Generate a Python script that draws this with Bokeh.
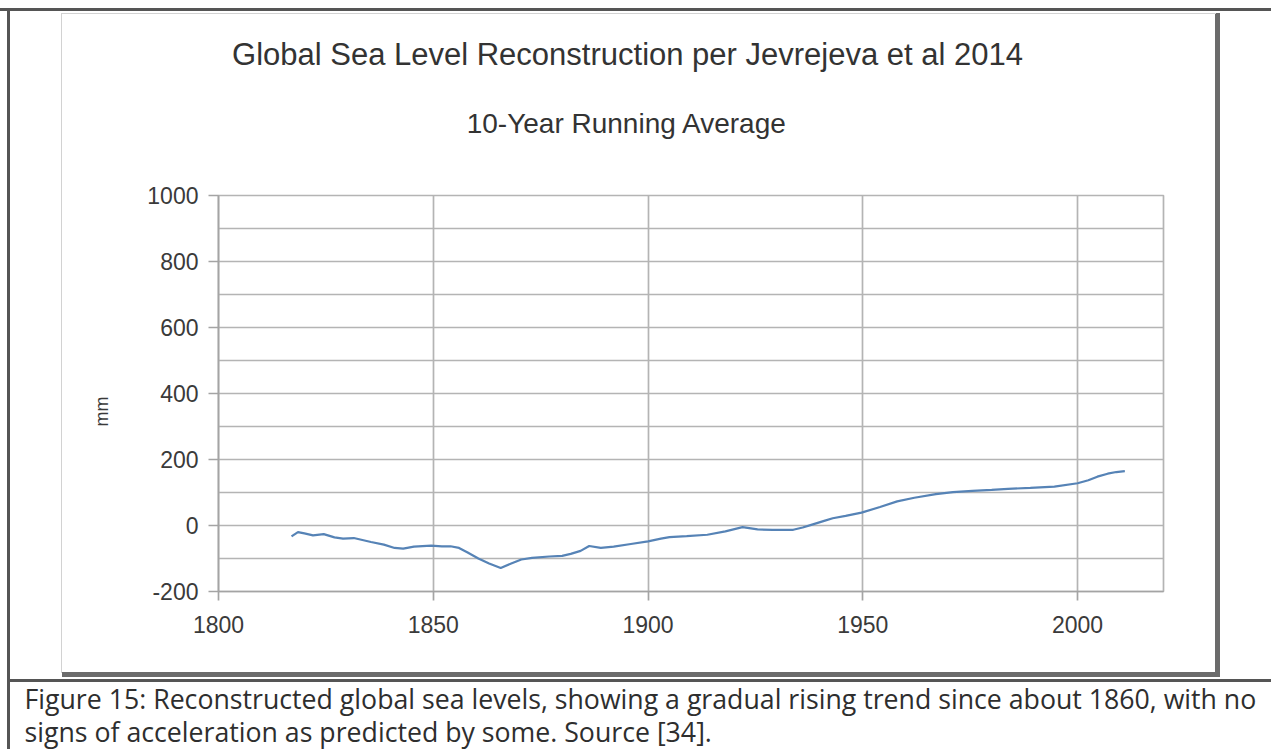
import math
from bokeh.plotting import figure
from bokeh.layouts import column, row
from bokeh.models import Label, FixedTicker, Range1d
from bokeh.embed import file_html
from bokeh.resources import INLINE

# ---- data ----
years = [1817, 1818.5, 1820, 1822, 1824.5, 1827, 1829, 1831.5, 1833.5, 1835.5,
         1838.5, 1841, 1843, 1845.5, 1849.5, 1852, 1854, 1856, 1858, 1860.5,
         1863, 1865.7, 1868, 1870.5, 1873, 1877, 1880, 1882, 1884.3, 1886.3,
         1889, 1892, 1896, 1900, 1903, 1905, 1909, 1913.8, 1918, 1922,
         1925.5, 1929, 1933.8, 1936, 1938, 1941, 1943, 1946, 1949.7, 1954,
         1958, 1962, 1967, 1971, 1975.5, 1980, 1983.8, 1989, 1994.6, 2000,
         2002.5, 2004.6, 2007, 2009, 2011]
sea_level_mm = [-33, -20, -24, -30, -26, -36, -40, -38, -44, -50,
                -58, -68, -70, -64, -61, -63, -63, -68, -82, -100,
                -115, -129, -116, -103, -98, -94, -92, -86, -77, -62,
                -68, -64, -56, -48, -40, -35, -32, -28, -18, -5,
                -12, -13, -13, -6, 2, 14, 22, 29, 39, 56,
                73, 84, 95, 101, 105, 108, 111, 114, 118, 128,
                137, 148, 157, 162, 165]

x_ticks = [1800, 1850, 1900, 1950, 2000]
y_ticks = [-200, 0, 200, 400, 600, 800, 1000]
y_minor_ticks = [-100, 100, 300, 500, 700, 900]
x_limits = [1800, 2020]
y_limits = [-200, 1000]

title_text = "Global Sea Level Reconstruction per Jevrejeva et al 2014"
subtitle_text = "10-Year Running Average"
y_label_text = "mm"
caption_lines = [
    "Figure 15: Reconstructed global sea levels, showing a gradual rising trend since about 1860, with no",
    "signs of acceleration as predicted by some. Source [34].",
]

# ---- page geometry (pixels) ----
PAGE_W, PAGE_H = 1271, 749
TOP_H = 175                 # title strip
MID_H = 486                 # chart strip
CAP_H = PAGE_H - TOP_H - MID_H
LEFT_W = 140                # strip holding the "mm" label
FRAME_L, FRAME_R, FRAME_T, FRAME_B = 218, 1163, 195, 591


def blank_fig(w, h, x0, y0):
    f = figure(width=w, height=h, output_backend="svg", toolbar_location=None,
               x_range=Range1d(x0, x0 + w), y_range=Range1d(y0 + h, y0),
               min_border=0, x_axis_type=None, y_axis_type=None,
               title_location=None)
    f.outline_line_color = None
    f.background_fill_alpha = 0
    f.border_fill_alpha = 0
    return f


def add_text(f, x, y, text, size, font="Liberation Sans", color="#333333",
             align="center", baseline="alphabetic", angle=0.0):
    f.add_layout(Label(x=x, y=y, text=text, text_font=font, text_font_size=size,
                       text_color=color, text_align=align,
                       text_baseline=baseline, angle=angle))


# title strip
top = blank_fig(PAGE_W, TOP_H, 0, 0)
add_text(top, 627, 53.5, title_text, "31px")
add_text(top, 626.5, 122.5, subtitle_text, "28px")

# left strip with y-axis label
left = blank_fig(LEFT_W, MID_H, 0, TOP_H)
add_text(left, 101.5, 440, y_label_text, "18px", color="#3a3a3a",
         baseline="middle", angle=math.pi / 2)

# main chart
p = figure(width=PAGE_W - LEFT_W, height=MID_H, output_backend="svg",
           toolbar_location=None, title_location=None,
           x_range=Range1d(*x_limits), y_range=Range1d(*y_limits),
           min_border_left=FRAME_L - LEFT_W, min_border_right=PAGE_W - FRAME_R,
           min_border_top=FRAME_T - TOP_H,
           min_border_bottom=TOP_H + MID_H - FRAME_B)
p.background_fill_color = "white"
p.border_fill_alpha = 0
p.outline_line_color = "#b4b4b4"
p.outline_line_width = 1.7

grid_col = "#b4b4b4"
p.xaxis.ticker = FixedTicker(ticks=x_ticks)
p.yaxis.ticker = FixedTicker(ticks=y_ticks, minor_ticks=y_minor_ticks)
p.xgrid.grid_line_color = grid_col
p.xgrid.grid_line_width = 1.7
p.ygrid.grid_line_color = grid_col
p.ygrid.grid_line_width = 1.7
p.ygrid.minor_grid_line_color = grid_col
p.ygrid.minor_grid_line_width = 1.7

for ax in (p.xaxis[0], p.yaxis[0]):
    ax.axis_line_color = "#a4a4a4"
    ax.axis_line_width = 1.7
    ax.major_tick_line_color = "#a4a4a4"
    ax.major_tick_line_width = 1.7
    ax.major_tick_in = 0
    ax.minor_tick_in = 0
    ax.minor_tick_out = 0
    ax.major_label_text_font = "Liberation Sans"
    ax.major_label_text_font_size = "23px"
    ax.major_label_text_color = "#3a3a3a"
p.yaxis.major_tick_out = 10
p.yaxis.major_label_standoff = 10
p.yaxis.major_label_overrides = {t: str(t) for t in y_ticks}
p.xaxis.major_tick_out = 9
p.xaxis.major_label_standoff = 15

p.line(years, sea_level_mm, line_color="#5683b6", line_width=2.2)

# caption strip
cap = blank_fig(PAGE_W, CAP_H, 0, TOP_H + MID_H)
add_text(cap, 24, 697.5, caption_lines[0], "26.7px", font="Open Sans", color="#2e2e2e", align="left")
add_text(cap, 24, 730.5, caption_lines[1], "26.7px", font="Open Sans", color="#2e2e2e", align="left")

root = column(top, row(left, p), cap)

# page frame, chart box and its shadow (x, y, w, h, colour)
dark, shade, light = "#555555", "#6b6b6b", "#d2d2d2"
rects = [
    (0, 8, PAGE_W, 3, dark),
    (7, 8, 3, PAGE_H - 8, dark),
    (7, 679, PAGE_W - 7, 3, dark),
    (61, 13, 1155, 1, light),
    (61, 13, 1, 660, light),
    (1215, 13, 5, 664, shade),
    (62, 672, 1158, 5, shade),
]
root.styles = {
    "background-color": "white",
    "background-image": ", ".join(f"linear-gradient({c}, {c})" for *_, c in rects),
    "background-position": ", ".join(f"{x}px {y}px" for x, y, *_ in rects),
    "background-size": ", ".join(f"{w}px {h}px" for _, _, w, h, _ in rects),
    "background-repeat": "no-repeat",
}

open("out.html", "w").write(file_html(root, INLINE))
